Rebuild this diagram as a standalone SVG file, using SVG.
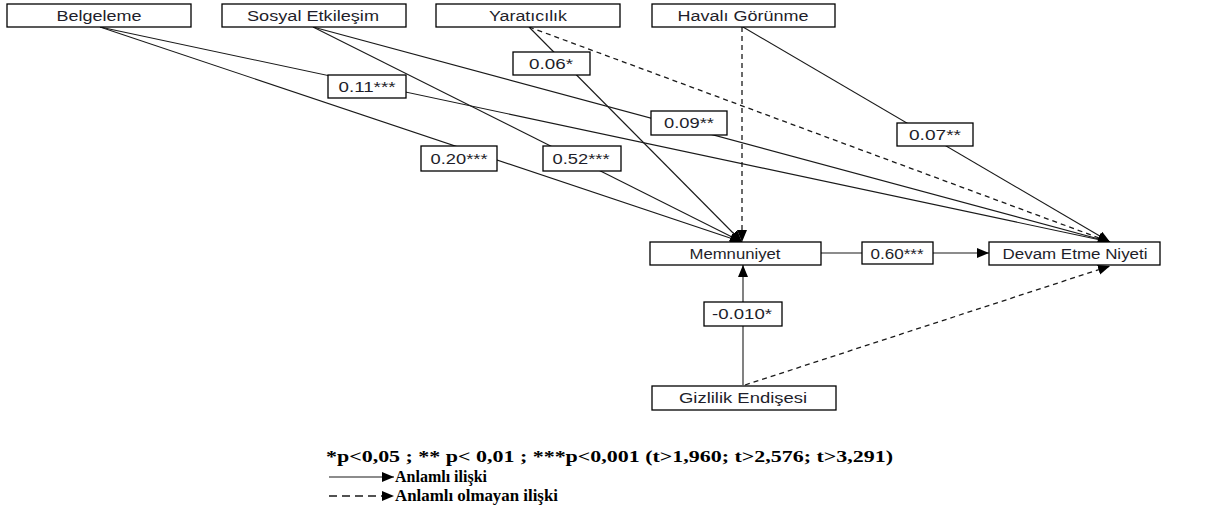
<svg xmlns="http://www.w3.org/2000/svg" width="1206" height="514" viewBox="0 0 1206 514">
<defs>
<marker id="ah" markerUnits="userSpaceOnUse" markerWidth="13" markerHeight="11" refX="12" refY="5" orient="auto">
<path d="M0,0 L12,5 L0,10 z" fill="#000"/>
</marker>
<style>
.bx{fill:#fff;stroke:#000;stroke-width:1.3}
.t{font-family:"Liberation Sans",Arial,sans-serif;font-size:14px;fill:#1e1e2a;text-anchor:middle}
.c{fill:none;stroke:#1a1a1a;stroke-width:1.1}
.d{fill:none;stroke:#1a1a1a;stroke-width:1.3;stroke-dasharray:5 4}
.lg{font-family:"Liberation Serif","Times New Roman",serif;font-size:16px;font-weight:bold;fill:#000}
</style>
</defs>
<rect width="1206" height="514" fill="#fff"/>
<g id="connectors">
<line class="c" x1="100" y1="27" x2="742" y2="242" marker-end="url(#ah)"/>
<line class="c" x1="100" y1="27" x2="1110" y2="242" marker-end="url(#ah)"/>
<line class="c" x1="313" y1="27" x2="742" y2="242" marker-end="url(#ah)"/>
<line class="c" x1="313" y1="27" x2="1110" y2="242" marker-end="url(#ah)"/>
<line class="c" x1="529" y1="27" x2="742" y2="242" marker-end="url(#ah)"/>
<line class="d" x1="529" y1="27" x2="1110" y2="242" marker-end="url(#ah)"/>
<line class="d" x1="742" y1="27" x2="742" y2="242" marker-end="url(#ah)"/>
<line class="c" x1="743" y1="27" x2="1110" y2="242" marker-end="url(#ah)"/>
<line class="c" x1="821" y1="253" x2="989" y2="253" marker-end="url(#ah)"/>
<line class="c" x1="743" y1="385" x2="743" y2="265" marker-end="url(#ah)"/>
<line class="d" x1="745" y1="385" x2="1110" y2="266" marker-end="url(#ah)"/>
</g>
<g id="belgeleme"><rect class="bx" x="7" y="4" width="184" height="23"/><text class="t" x="99" y="21" textLength="85" lengthAdjust="spacingAndGlyphs">Belgeleme</text></g>
<g id="sosyal"><rect class="bx" x="222" y="4" width="184" height="23"/><text class="t" x="313" y="21" textLength="132" lengthAdjust="spacingAndGlyphs">Sosyal Etkileşim</text></g>
<g id="yaraticilik"><rect class="bx" x="436" y="4" width="184" height="23"/><text class="t" x="528" y="21" textLength="78" lengthAdjust="spacingAndGlyphs">Yaratıcılık</text></g>
<g id="havali"><rect class="bx" x="652" y="4" width="183" height="23"/><text class="t" x="743" y="21" textLength="131" lengthAdjust="spacingAndGlyphs">Havalı Görünme</text></g>
<g id="memnuniyet"><rect class="bx" x="650" y="242" width="171" height="23"/><text class="t" x="735" y="259" textLength="91" lengthAdjust="spacingAndGlyphs">Memnuniyet</text></g>
<g id="devam"><rect class="bx" x="989" y="242" width="171" height="23"/><text class="t" x="1075" y="259" textLength="145" lengthAdjust="spacingAndGlyphs">Devam Etme Niyeti</text></g>
<g id="gizlilik"><rect class="bx" x="652" y="386" width="184" height="24"/><text class="t" x="743" y="403" textLength="128" lengthAdjust="spacingAndGlyphs">Gizlilik Endişesi</text></g>
<g id="l060"><rect class="bx" x="862" y="242" width="71" height="22"/><text class="t" x="897" y="259" textLength="53" lengthAdjust="spacingAndGlyphs">0.60***</text></g>
<g id="l011"><rect class="bx" x="328" y="75" width="78" height="23"/><text class="t" x="367" y="92" textLength="57" lengthAdjust="spacingAndGlyphs">0.11***</text></g>
<g id="l006"><rect class="bx" x="513" y="52" width="77" height="23"/><text class="t" x="551" y="69" textLength="44" lengthAdjust="spacingAndGlyphs">0.06*</text></g>
<g id="l009"><rect class="bx" x="651" y="111" width="76" height="24"/><text class="t" x="689" y="128" textLength="50" lengthAdjust="spacingAndGlyphs">0.09**</text></g>
<g id="l020"><rect class="bx" x="421" y="146" width="76" height="25"/><text class="t" x="459" y="164" textLength="57" lengthAdjust="spacingAndGlyphs">0.20***</text></g>
<g id="l052"><rect class="bx" x="543" y="146" width="78" height="25"/><text class="t" x="581" y="164" textLength="57" lengthAdjust="spacingAndGlyphs">0.52***</text></g>
<g id="l007"><rect class="bx" x="897" y="123" width="76" height="23"/><text class="t" x="935" y="140" textLength="52" lengthAdjust="spacingAndGlyphs">0.07**</text></g>
<g id="l0010"><rect class="bx" x="704" y="302" width="78" height="24"/><text class="t" x="742" y="319" textLength="60" lengthAdjust="spacingAndGlyphs">-0.010*</text></g>
<g id="legend">
<text class="lg" x="326" y="462" textLength="567" lengthAdjust="spacingAndGlyphs">*p&lt;0,05 ; ** p&lt; 0,01 ; ***p&lt;0,001 (t&gt;1,960; t&gt;2,576; t&gt;3,291)</text>
<line class="c" x1="329" y1="477" x2="394" y2="477" stroke-width="1.6" marker-end="url(#ah)"/>
<text class="lg" x="395" y="482" textLength="92" lengthAdjust="spacingAndGlyphs">Anlamlı ilişki</text>
<line x1="329" y1="496" x2="394" y2="496" stroke="#1a1a1a" stroke-width="1.6" stroke-dasharray="8 5" marker-end="url(#ah)"/>
<text class="lg" x="395" y="501" textLength="163" lengthAdjust="spacingAndGlyphs">Anlamlı olmayan ilişki</text>
</g>
</svg>
